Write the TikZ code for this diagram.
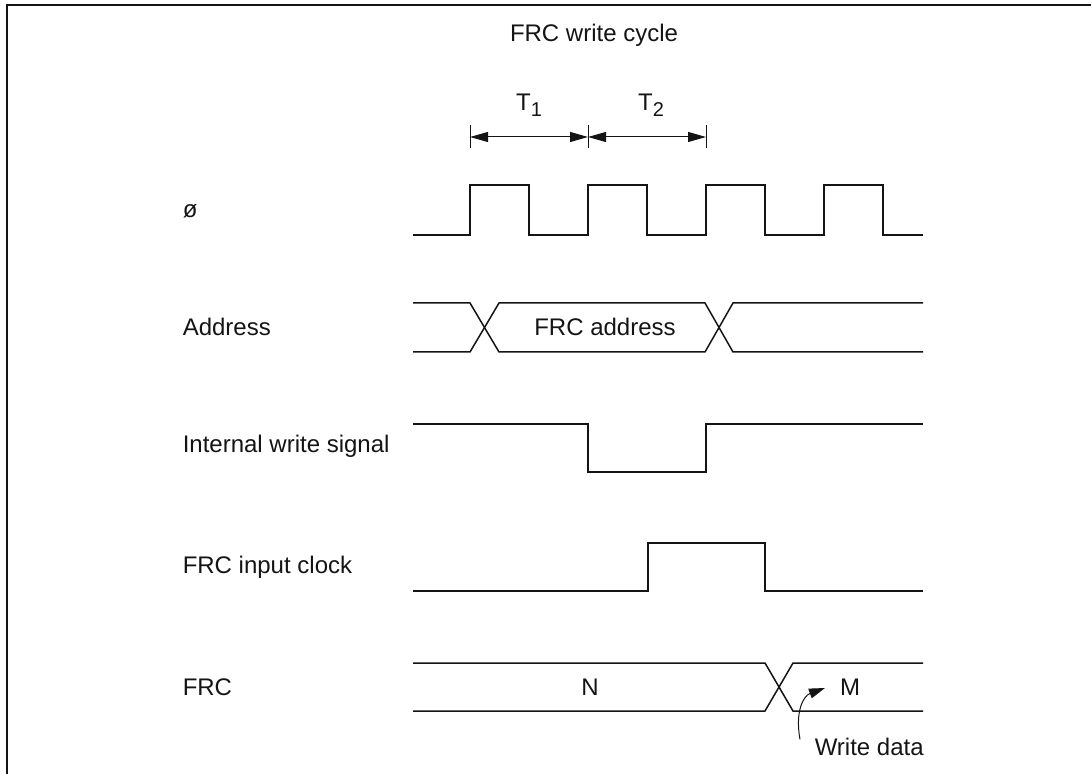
\documentclass[tikz,border=0pt]{standalone}
\usepackage{fontspec}
\setmainfont{Liberation Sans}
\usetikzlibrary{arrows.meta,positioning}
\definecolor{ink}{RGB}{20,20,20}
\tikzset{
  every picture/.style={color=ink, line width=0.75pt, font=\fontsize{12}{14}\selectfont},
  wave/.style={line width=0.75pt, line join=miter},
  frame/.style={line width=1pt},
  sig/.style={anchor=west, inner sep=0pt},
  dimline/.style={{Triangle[length=9pt,width=5pt]}-{Triangle[length=9pt,width=5pt]}, line width=0.5pt},
  dimtick/.style={line width=0.5pt},
  callout/.style={-{Triangle[length=8pt,width=5pt]}, line width=0.5pt},
}
\newcommand{\tsub}[1]{T\raisebox{-0.45ex}{\fontsize{10}{10}\selectfont #1}}

\begin{document}
\begin{tikzpicture}[x=0.5pt, y=-0.5pt]
  \useasboundingbox (0,0) rectangle (1091,774);
  \draw[frame] (7,774) -- (7,5) -- (1091,5);

  \node (title) at (594,35) {FRC write cycle};

  % period markers
  \node (t1) at (529,105) {\tsub{1}};
  \node (t2) at (651,105) {\tsub{2}};
  \coordinate (d1) at (470,137);
  \coordinate (d2) at (588,137);
  \coordinate (d3) at (706,137);
  \foreach \c in {d1,d2,d3}
    \draw[dimtick] ([yshift=5.75pt]\c) -- ([yshift=-5.75pt]\c);
  \draw[dimline] (d1) -- (d2);
  \draw[dimline] (d2) -- (d3);

  % signal names
  \node[sig] (phi) at (182,211) {ø};
  \node[sig] (addr) at (182,327) {Address};
  \node[sig] (iws) at (182,446) {Internal write signal};
  \node[sig] (ick) at (182,567) {FRC input clock};
  \node[sig] (frc) at (182,687) {FRC};

  % system clock
  \draw[wave] (413,235) foreach \x in {470,588,706,824} {
      -- (\x,235) -- (\x,185) -- (\x+59,185) -- (\x+59,235) } -- (923,235);

  % address bus
  \draw[wave] (413,303) -- (470,303) -- (499,352) -- (705,352) -- (733,303) -- (923,303);
  \draw[wave] (413,352) -- (470,352) -- (499,303) -- (705,303) -- (733,352) -- (923,352);
  \node (abus) at (605,327) {FRC address};

  % internal write
  \draw[wave] (413,424) -- (588,424) -- (588,472) -- (706,472) -- (706,424) -- (923,424);

  % FRC input clock
  \draw[wave] (413,591) -- (648,591) -- (648,543) -- (765,543) -- (765,591) -- (923,591);

  % FRC value
  \draw[wave] (413,663) -- (765,663) -- (793,711) -- (923,711);
  \draw[wave] (413,711) -- (765,711) -- (793,663) -- (923,663);
  \node (vn) at (590,687) {N};
  \node (vm) at (850,687) {M};

  \node[sig] (wd) at (814,747) {Write data};
  \coordinate (wdtip) at (825,688);
  \draw[callout] ([xshift=-7pt,yshift=-1pt]wd.north west) .. controls (795,712) and (803,696) .. (wdtip);
\end{tikzpicture}
\end{document}
